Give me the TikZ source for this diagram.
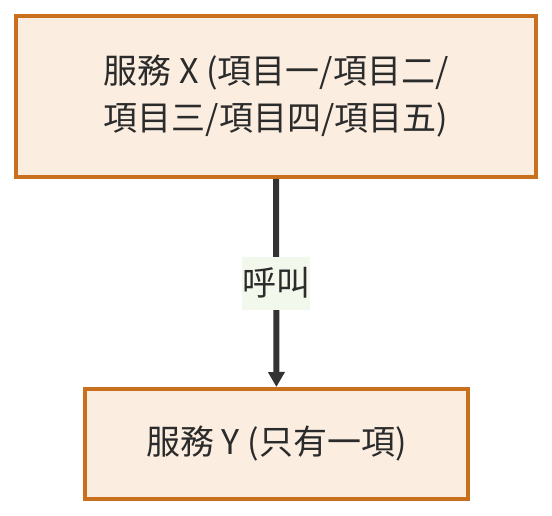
\documentclass[tikz,border=0pt]{standalone}
\usepackage{fontspec}
\setmainfont{Noto Sans CJK TC}
\usetikzlibrary{arrows.meta}

\definecolor{boxfill}{HTML}{FBEEE1}
\definecolor{boxline}{HTML}{C8701E}
\definecolor{inktext}{HTML}{2B2B2B}
\definecolor{linkline}{HTML}{333333}
\definecolor{labelbg}{HTML}{F3F8EC}

\tikzset{every picture/.style={line width=0.75pt}}
\tikzset{
  service/.style={draw=boxline, fill=boxfill, line width=3pt, text=inktext,
    align=center, inner sep=0pt, font=\fontsize{25.5}{35.25}\selectfont},
  calllabel/.style={fill=labelbg, text=inktext, inner sep=0pt,
    minimum width=51pt, minimum height=39.75pt,
    font=\fontsize{25.5}{35.25}\selectfont},
}

\begin{document}
\begin{tikzpicture}[x=0.75pt,y=0.75pt,yscale=-1,xscale=1]
    %set diagram frame to 552 x 516
    \useasboundingbox (0,0) rectangle (552,516);
    
    % Service boxes
    \node [service, minimum width=390pt, minimum height=120.75pt] (svcx) at (276,96.5)
      {服務 X (項目一/項目二/\\項目三/項目四/項目五)};
    \node [service, minimum width=287.25pt, minimum height=82.5pt] (svcy) at (276.5,444)
      {服務 Y (只有一項)};
    
    % Call link
    \draw [linkline, line width=4.5pt, -{Triangle[length=11.25pt,width=12pt]}] (svcx) -- (svcy)
      node [midway, calllabel] (call) {呼叫};
    
\end{tikzpicture}
\end{document}
